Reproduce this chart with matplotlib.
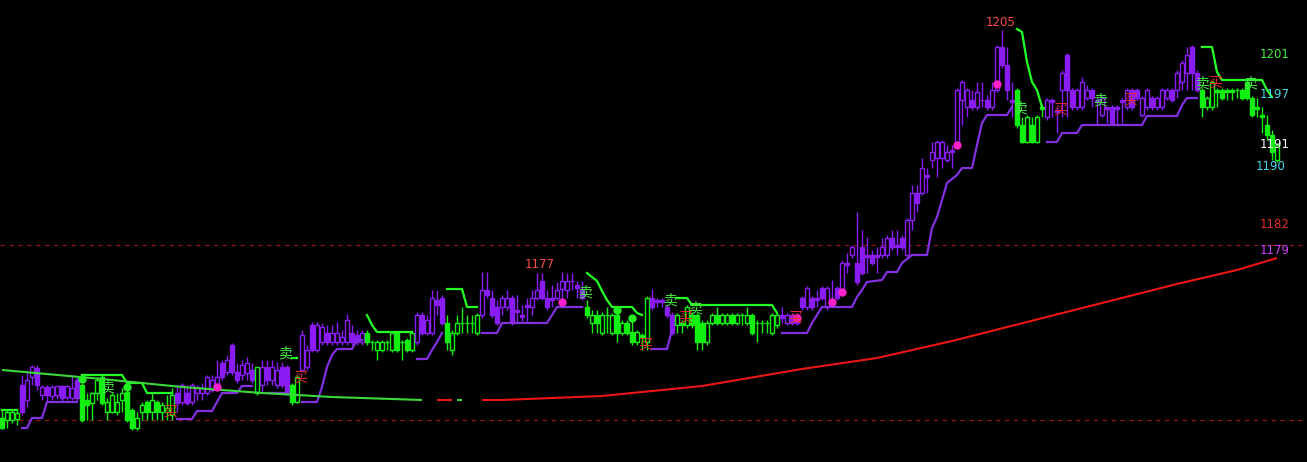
import matplotlib
matplotlib.use("Agg")
import matplotlib.pyplot as plt
from matplotlib.patches import Rectangle

plt.rcParams['font.family'] = ['Noto Sans CJK SC', 'DejaVu Sans']

# candle data (price), one entry per bar
opens = [1162.7, 1162.5, 1162.5, 1162.6, 1166.0, 1164.5, 1166.8, 1167.7, 1165.0, 1165.8,
         1164.9, 1165.0, 1165.9, 1164.8, 1164.7, 1166.5, 1166.0, 1164.5, 1164.2, 1165.2,
         1166.8, 1163.3, 1163.3, 1163.3, 1164.5, 1165.3, 1163.5, 1161.7, 1163.3, 1164.3,
         1163.3, 1164.3, 1163.3, 1163.3, 1163.0, 1165.2, 1164.3, 1165.2, 1164.3, 1165.2,
         1165.2, 1165.2, 1165.5, 1165.8, 1168.2, 1167.3, 1170.0, 1167.3, 1167.0, 1167.2,
         1167.5, 1165.2, 1166.0, 1167.8, 1166.5, 1166.0, 1167.8, 1167.8, 1166.0, 1164.3,
         1167.5, 1167.8, 1172.0, 1169.5, 1170.3, 1171.2, 1170.3, 1170.3, 1170.3, 1170.3,
         1171.2, 1171.0, 1170.3, 1171.2, 1170.3, 1169.5, 1169.5, 1170.3, 1169.5, 1171.2,
         1170.3, 1170.5, 1169.5, 1170.3, 1173.0, 1171.2, 1171.2, 1174.5, 1174.7, 1172.2,
         1169.5, 1171.2, 1172.2, 1172.2, 1172.2, 1171.2, 1173.0, 1175.5, 1174.7, 1173.8,
         1173.8, 1173.8, 1174.7, 1173.5, 1173.0, 1174.0, 1173.8, 1174.7, 1176.4, 1174.7,
         1174.7, 1174.7, 1175.6, 1175.5, 1176.4, 1176.0, 1175.5, 1173.8, 1172.2, 1173.0,
         1171.2, 1173.0, 1171.2, 1173.0, 1171.2, 1172.2, 1171.3, 1170.3, 1171.0, 1170.3,
         1174.7, 1174.5, 1174.5, 1173.8, 1173.0, 1172.0, 1172.2, 1172.0, 1173.0, 1173.0,
         1172.2, 1170.3, 1172.2, 1173.0, 1172.2, 1172.2, 1173.0, 1172.2, 1173.0, 1172.2,
         1173.0, 1172.2, 1172.2, 1172.2, 1171.2, 1172.0, 1173.0, 1172.2, 1173.0, 1172.2,
         1174.7, 1173.8, 1174.7, 1174.7, 1175.7, 1173.8, 1174.5, 1175.7, 1175.5, 1178.2,
         1179.0, 1178.2, 1179.8, 1179.0, 1179.0, 1179.0, 1179.0, 1179.0, 1180.7, 1180.0,
         1180.7, 1179.0, 1182.5, 1185.2, 1185.2, 1187.0, 1188.5, 1188.7, 1188.7, 1188.5,
         1189.5, 1190.0, 1194.5, 1193.8, 1194.5, 1193.8, 1194.5, 1194.5, 1193.8, 1195.5,
         1199.8, 1198.0, 1194.5, 1195.5, 1192.0, 1190.3, 1192.0, 1190.3, 1193.8, 1192.8,
         1194.5, 1193.5, 1195.5, 1199.0, 1195.5, 1193.8, 1193.8, 1194.7, 1195.5, 1194.5,
         1193.0, 1193.8, 1193.8, 1193.8, 1194.5, 1193.8, 1195.5, 1195.5, 1193.0, 1193.8,
         1194.7, 1193.8, 1193.8, 1194.7, 1195.5, 1195.5, 1196.3, 1197.2, 1199.8, 1197.2,
         1195.5, 1193.8, 1193.8, 1195.5, 1195.5, 1195.5, 1195.5, 1195.5, 1195.5, 1196.3,
         1194.7, 1193.8, 1193.0, 1192.0, 1191.0, 1188.5]
highs = [1163.5, 1163.5, 1163.5, 1163.5, 1167.0, 1167.5, 1168.0, 1168.0, 1166.0, 1166.0,
         1166.0, 1166.0, 1166.0, 1166.0, 1167.0, 1166.8, 1166.2, 1165.2, 1165.3, 1166.8,
         1167.0, 1164.7, 1165.2, 1165.2, 1165.7, 1165.5, 1163.7, 1163.3, 1164.3, 1164.5,
         1165.2, 1164.5, 1164.3, 1165.0, 1165.7, 1166.0, 1166.2, 1166.0, 1166.2, 1166.0,
         1166.2, 1167.0, 1167.0, 1168.5, 1168.5, 1169.0, 1170.2, 1168.2, 1168.5, 1168.8,
         1168.2, 1167.8, 1168.5, 1168.5, 1168.5, 1168.3, 1168.3, 1168.0, 1166.2, 1167.0,
         1171.5, 1170.0, 1172.3, 1172.3, 1172.2, 1172.0, 1172.0, 1172.3, 1171.5, 1173.1,
         1172.0, 1171.5, 1171.5, 1171.5, 1170.5, 1170.5, 1170.5, 1170.5, 1171.2, 1171.2,
         1170.5, 1170.7, 1171.2, 1173.3, 1173.3, 1173.0, 1175.5, 1175.5, 1175.0, 1173.0,
         1171.5, 1173.0, 1173.8, 1173.0, 1173.0, 1173.2, 1177.3, 1177.3, 1175.5, 1174.5,
         1175.0, 1175.5, 1175.0, 1175.0, 1174.0, 1174.7, 1175.5, 1177.2, 1177.2, 1175.5,
         1176.0, 1176.3, 1177.3, 1177.2, 1177.2, 1176.4, 1176.4, 1174.5, 1173.5, 1173.5,
         1173.3, 1173.8, 1173.2, 1173.3, 1172.5, 1172.5, 1173.0, 1171.5, 1171.2, 1174.9,
         1175.6, 1174.7, 1174.7, 1174.0, 1173.3, 1173.2, 1172.5, 1174.0, 1173.3, 1173.2,
         1172.5, 1172.5, 1173.2, 1173.8, 1173.2, 1173.2, 1173.2, 1173.2, 1173.2, 1173.8,
         1173.2, 1172.5, 1172.5, 1172.5, 1173.2, 1173.2, 1173.8, 1173.2, 1173.2, 1173.2,
         1174.9, 1175.9, 1174.9, 1175.5, 1175.9, 1175.9, 1176.5, 1175.9, 1178.5, 1179.2,
         1180.0, 1183.3, 1181.5, 1180.8, 1179.5, 1179.8, 1180.7, 1181.0, 1181.5, 1181.5,
         1181.0, 1182.7, 1186.0, 1186.0, 1188.7, 1187.7, 1190.3, 1190.5, 1190.5, 1190.0,
         1190.0, 1195.7, 1196.5, 1195.7, 1195.5, 1196.3, 1196.3, 1195.0, 1196.3, 1200.0,
         1201.5, 1199.8, 1196.3, 1195.7, 1192.8, 1193.0, 1192.8, 1193.0, 1194.0, 1194.7,
         1194.7, 1193.8, 1197.5, 1199.2, 1195.7, 1195.7, 1196.8, 1196.0, 1195.7, 1194.7,
         1194.9, 1193.8, 1194.0, 1194.0, 1194.7, 1195.7, 1195.7, 1195.7, 1194.9, 1195.7,
         1194.9, 1194.9, 1195.7, 1195.7, 1195.7, 1197.5, 1198.5, 1199.8, 1200.0, 1197.5,
         1195.7, 1194.9, 1196.5, 1195.7, 1195.7, 1195.7, 1195.7, 1195.7, 1195.7, 1196.5,
         1194.9, 1194.7, 1193.8, 1193.0, 1191.5, 1190.2]
lows = [1161.6, 1161.7, 1162.2, 1162.0, 1163.0, 1163.8, 1166.0, 1165.5, 1164.5, 1164.4,
        1164.5, 1164.6, 1164.4, 1164.5, 1164.5, 1164.4, 1162.3, 1162.5, 1162.5, 1164.5,
        1164.0, 1162.5, 1163.2, 1163.0, 1163.3, 1162.3, 1161.5, 1161.5, 1162.5, 1162.5,
        1162.5, 1162.5, 1162.5, 1162.5, 1162.5, 1163.3, 1164.0, 1164.0, 1164.0, 1164.5,
        1164.5, 1165.0, 1165.3, 1165.5, 1166.5, 1167.0, 1167.0, 1166.2, 1166.5, 1166.5,
        1166.2, 1165.0, 1165.2, 1166.0, 1166.0, 1165.7, 1165.7, 1165.0, 1164.0, 1164.2,
        1167.3, 1167.5, 1169.3, 1169.3, 1170.0, 1170.0, 1170.0, 1170.0, 1170.0, 1170.0,
        1170.0, 1170.0, 1170.0, 1170.0, 1169.5, 1168.5, 1169.3, 1169.5, 1169.3, 1169.3,
        1168.5, 1169.3, 1169.3, 1170.0, 1171.0, 1171.0, 1171.0, 1173.0, 1172.0, 1169.5,
        1169.0, 1171.0, 1171.2, 1171.2, 1171.2, 1171.0, 1172.7, 1174.7, 1172.7, 1172.0,
        1173.0, 1173.5, 1172.0, 1172.2, 1172.2, 1172.2, 1173.0, 1174.5, 1174.5, 1173.5,
        1173.8, 1174.5, 1174.5, 1174.7, 1175.5, 1174.7, 1174.5, 1172.7, 1171.2, 1171.2,
        1171.0, 1171.2, 1171.0, 1170.3, 1171.0, 1171.0, 1170.0, 1170.0, 1169.5, 1169.5,
        1173.5, 1173.8, 1173.8, 1172.7, 1171.0, 1171.2, 1171.2, 1171.7, 1171.7, 1169.5,
        1169.5, 1170.0, 1172.0, 1172.0, 1172.0, 1172.0, 1172.0, 1172.0, 1172.0, 1172.0,
        1171.0, 1170.3, 1171.2, 1171.2, 1171.0, 1171.7, 1172.2, 1172.0, 1172.0, 1172.0,
        1173.5, 1173.5, 1173.5, 1173.8, 1174.5, 1173.5, 1173.8, 1174.5, 1175.2, 1177.2,
        1178.7, 1176.0, 1177.0, 1177.2, 1178.0, 1177.2, 1178.7, 1178.7, 1179.5, 1179.0,
        1179.5, 1178.7, 1181.5, 1183.3, 1185.0, 1185.2, 1187.7, 1186.8, 1187.7, 1188.3,
        1187.7, 1189.7, 1192.0, 1192.8, 1193.5, 1193.5, 1193.8, 1193.5, 1193.5, 1195.3,
        1197.7, 1194.5, 1192.8, 1191.7, 1190.2, 1190.2, 1190.2, 1190.2, 1192.8, 1192.5,
        1192.8, 1191.2, 1192.8, 1192.8, 1193.5, 1193.5, 1193.5, 1194.5, 1193.8, 1192.0,
        1192.8, 1192.2, 1192.0, 1192.0, 1192.2, 1193.5, 1193.5, 1194.5, 1192.8, 1193.5,
        1193.5, 1193.5, 1193.5, 1194.5, 1194.3, 1194.7, 1195.5, 1195.5, 1195.5, 1195.3,
        1192.8, 1193.5, 1193.5, 1193.8, 1194.5, 1194.5, 1194.5, 1194.7, 1194.5, 1194.5,
        1192.8, 1192.8, 1191.2, 1190.5, 1188.5, 1188.3]
closes = [1161.7, 1163.3, 1163.3, 1163.2, 1163.3, 1166.5, 1167.8, 1166.0, 1165.8, 1165.0,
          1165.8, 1165.9, 1164.7, 1165.9, 1165.7, 1164.7, 1162.5, 1164.0, 1165.2, 1166.5,
          1164.2, 1164.3, 1165.0, 1164.3, 1165.2, 1162.5, 1161.7, 1162.7, 1164.0, 1163.3,
          1164.5, 1163.3, 1164.0, 1163.7, 1165.0, 1164.2, 1166.0, 1164.2, 1166.0, 1165.8,
          1165.7, 1166.8, 1166.5, 1166.8, 1166.8, 1168.5, 1167.3, 1166.5, 1168.0, 1168.2,
          1166.5, 1167.8, 1167.8, 1166.5, 1167.8, 1167.5, 1166.0, 1165.2, 1164.3, 1166.8,
          1171.0, 1169.5, 1169.5, 1172.0, 1171.8, 1170.3, 1171.2, 1171.2, 1170.8, 1172.5,
          1170.3, 1170.3, 1171.2, 1170.3, 1170.2, 1170.3, 1170.3, 1170.4, 1171.2, 1169.5,
          1170.4, 1169.5, 1171.2, 1173.0, 1171.2, 1172.5, 1174.7, 1174.0, 1172.2, 1170.3,
          1171.2, 1172.2, 1172.3, 1172.3, 1172.3, 1173.0, 1175.5, 1175.0, 1173.0, 1172.2,
          1174.7, 1174.7, 1172.2, 1173.3, 1172.8, 1173.8, 1174.7, 1175.5, 1174.7, 1173.8,
          1174.5, 1175.5, 1176.4, 1176.4, 1176.5, 1175.7, 1174.7, 1173.0, 1173.0, 1172.2,
          1173.0, 1173.1, 1173.0, 1171.2, 1172.2, 1171.2, 1170.3, 1171.3, 1170.8, 1174.7,
          1173.8, 1174.3, 1174.3, 1173.0, 1171.2, 1173.0, 1172.0, 1173.8, 1172.0, 1170.3,
          1170.3, 1172.2, 1173.0, 1172.2, 1173.0, 1173.0, 1172.2, 1173.0, 1173.1, 1173.0,
          1171.2, 1172.3, 1172.3, 1172.3, 1173.0, 1173.0, 1172.7, 1173.0, 1172.2, 1173.0,
          1173.8, 1175.7, 1173.8, 1174.5, 1174.7, 1175.7, 1174.3, 1174.7, 1178.2, 1178.0,
          1179.8, 1176.3, 1177.2, 1178.8, 1178.2, 1178.8, 1179.8, 1180.7, 1179.8, 1179.8,
          1179.8, 1182.5, 1185.2, 1184.2, 1187.7, 1186.8, 1189.3, 1190.3, 1190.3, 1189.3,
          1189.3, 1195.5, 1196.3, 1195.5, 1193.8, 1195.3, 1194.6, 1193.8, 1195.5, 1199.8,
          1198.0, 1195.5, 1194.3, 1192.0, 1190.3, 1192.8, 1190.3, 1192.8, 1193.6, 1194.5,
          1194.3, 1193.3, 1197.2, 1195.5, 1193.8, 1195.5, 1196.3, 1195.5, 1194.7, 1194.3,
          1194.7, 1193.6, 1192.2, 1193.6, 1194.3, 1195.5, 1193.8, 1194.7, 1194.7, 1195.5,
          1193.8, 1194.7, 1195.5, 1195.5, 1194.5, 1197.2, 1198.2, 1199.0, 1197.2, 1195.5,
          1193.8, 1194.7, 1196.3, 1195.3, 1194.7, 1195.3, 1195.3, 1195.6, 1194.7, 1194.7,
          1193.0, 1193.6, 1192.8, 1191.0, 1189.3, 1190.0]

# trend state per run of bars: p = up (purple), g = down (green)
trend_runs = [(0, 3, 'g'), (4, 15, 'p'), (16, 34, 'g'), (35, 50, 'p'), (51, 51, 'g'),
              (52, 57, 'p'), (58, 59, 'g'), (60, 72, 'p'), (73, 82, 'g'), (83, 88, 'p'),
              (89, 95, 'g'), (96, 116, 'p'), (117, 129, 'g'), (130, 134, 'p'),
              (135, 155, 'g'), (156, 202, 'p'), (203, 208, 'g'), (209, 239, 'p'),
              (240, 255, 'g')]

# stop lines (bar index, price)
support = [
    [(4, 1161.7), (5, 1161.7), (6, 1162.7), (8, 1162.7), (9, 1164.3), (15, 1164.3)],
    [(35, 1162.6), (38, 1162.6), (39, 1163.4), (42, 1163.4), (44, 1165.2), (47, 1165.2),
     (48, 1165.9), (50, 1165.9)],
    [(53, 1165.2), (57, 1165.2)],
    [(60, 1164.3), (63, 1164.3), (64, 1165.8), (65, 1167.8), (66, 1169.0), (67, 1169.6),
     (70, 1169.6), (71, 1170.5), (72, 1170.5)],
    [(83, 1168.6), (85, 1168.6), (86, 1169.5), (87, 1170.3), (88, 1171.2)],
    [(96, 1171.2), (99, 1171.2), (100, 1172.2), (109, 1172.2), (110, 1173.0), (111, 1173.8),
     (116, 1173.8)],
    [(130, 1169.6), (133, 1169.6), (134, 1171.5)],
    [(156, 1171.2), (161, 1171.2), (162, 1172.2), (163, 1173.0), (164, 1173.8), (170, 1173.8),
     (171, 1174.8), (172, 1175.5), (173, 1176.3), (176, 1176.5), (177, 1177.3), (179, 1177.3),
     (180, 1178.2), (181, 1178.6), (182, 1179.0), (185, 1179.0), (186, 1181.7), (187, 1182.8),
     (188, 1184.5), (189, 1186.2), (190, 1186.6), (191, 1187.0), (192, 1187.7), (194, 1187.7),
     (195, 1190.0), (196, 1192.2), (197, 1193.0), (201, 1193.0), (202, 1193.8)],
    [(209, 1190.3), (211, 1190.3), (212, 1191.2), (215, 1191.2), (216, 1192.0), (228, 1192.0),
     (229, 1192.9), (235, 1192.9), (236, 1194.0), (237, 1194.7), (239, 1194.7)],
]
resistance = [
    [(0, 1163.5), (3, 1163.5)],
    [(16, 1167.0), (24, 1167.0), (25, 1166.2), (28, 1166.2), (29, 1165.2), (34, 1165.2)],
    [(58, 1168.7), (59, 1168.7)],
    [(73, 1173.0), (74, 1172.0), (75, 1171.3), (82, 1171.3)],
    [(89, 1175.6), (92, 1175.6), (93, 1173.8), (95, 1173.8)],
    [(117, 1177.2), (118, 1176.8), (119, 1176.4), (120, 1175.4), (121, 1174.5), (122, 1173.8),
     (126, 1173.8), (127, 1173.2), (128, 1173.0)],
    [(135, 1174.7), (137, 1174.7), (138, 1174.0), (154, 1174.0), (155, 1173.2)],
    [(203, 1201.6), (204, 1201.3), (205, 1198.3), (206, 1196.3), (207, 1195.5), (208, 1193.8)],
    [(240, 1199.8), (242, 1199.8), (243, 1197.3), (244, 1196.5), (252, 1196.5), (253, 1195.5),
     (254, 1194.8)],
]

# long moving average, colour by direction (n = not drawn)
ma_idx = [0, 20, 36, 52, 66, 84, 87, 90, 91, 92, 96, 100, 120, 140, 160, 175, 190, 205,
          220, 235, 247, 255]
ma_val = [1167.5, 1166.6, 1165.8, 1165.2, 1164.8, 1164.5, 1164.5, 1164.5, 1164.5, 1164.5,
          1164.5, 1164.5, 1164.9, 1165.9, 1167.6, 1168.7, 1170.4, 1172.3, 1174.2, 1176.1,
          1177.5, 1178.7]
ma_seg = ['g', 'g', 'g', 'g', 'g', 'n', 'r', 'n', 'g', 'n', 'r', 'r', 'r', 'r', 'r', 'r',
          'r', 'r', 'r', 'r', 'r']

# signals
sell_idx = [21, 56.6, 116.6, 133.6, 138.6, 203.6, 219.6, 240, 249.6]
sell_val = [1165.8, 1169.2, 1175.3, 1174.5, 1173.7, 1193.7, 1194.5, 1196.2, 1196.2]
buy_idx = [33.6, 59.6, 128.6, 136.6, 158.6, 211.6, 225.6, 242.6]
buy_val = [1163.3, 1166.7, 1170.0, 1172.7, 1172.7, 1193.5, 1194.5, 1196.2]
gdot_idx = [16, 25, 123, 126]
gdot_val = [1166.6, 1165.8, 1173.5, 1172.7]
mdot_idx = [43, 112, 159, 166, 168, 191, 199]
mdot_val = [1165.8, 1174.3, 1172.7, 1174.3, 1175.3, 1190.0, 1196.1]

levels = [1180.0, 1162.5]

# price tags
tags = [(199.8, 1202.3, '1205', '#ff4a4a'), (107.6, 1178.0, '1177', '#ff4a4a'),
        (254.6, 1199.0, '1201', '#44ee44'), (254.6, 1195.0, '1197', '#44d8e8'),
        (254.6, 1190.1, '1191', '#ffffff'), (253.8, 1187.8, '1190', '#44d8e8'),
        (254.6, 1182.0, '1182', '#e03030'), (254.6, 1179.5, '1179', '#d040ff')]

PURPLE = '#8a1cf5'
PURPLE_LINE = '#8330e0'
GREEN = '#12f012'
GREEN_LINE = '#22ff22'

colors = [None] * len(opens)
for a, b, c in trend_runs:
    for k in range(a, b + 1):
        colors[k] = PURPLE if c == 'p' else GREEN

fig = plt.figure(figsize=(13.07, 4.62), dpi=100, facecolor='black')
ax = fig.add_axes([0, 0, 1, 1])
ax.set_facecolor('black')
ax.set_xlim(-0.4, 261.0)
ax.set_ylim(1158.3, 1204.5)
ax.axis('off')

for lv in levels:
    ax.axhline(lv, color='#9a1515', lw=0.8, ls=(0, (4, 4)), zorder=1)

w = 0.7
for k in range(len(opens)):
    o, h, l, c = opens[k], highs[k], lows[k], closes[k]
    col = colors[k]
    ax.vlines(k, l, h, color=col, lw=1.0, zorder=2)
    if abs(c - o) < 0.15:
        ax.hlines(o, k - w / 2, k + w / 2, color=col, lw=1.0, zorder=3)
    elif c > o:
        ax.add_patch(Rectangle((k - w / 2, o), w, c - o, facecolor='black',
                               edgecolor=col, lw=1.0, zorder=3))
    else:
        ax.add_patch(Rectangle((k - w / 2, c), w, o - c, facecolor=col,
                               edgecolor=col, lw=1.0, zorder=3))

for seg in support:
    ax.plot([p[0] for p in seg], [p[1] for p in seg], color=PURPLE_LINE, lw=1.6,
            solid_joinstyle='round', zorder=4)
for seg in resistance:
    ax.plot([p[0] for p in seg], [p[1] for p in seg], color=GREEN_LINE, lw=1.6,
            solid_joinstyle='round', zorder=4)

for j in range(len(ma_seg)):
    if ma_seg[j] == 'n':
        continue
    col = '#ee1515' if ma_seg[j] == 'r' else '#3ad83a'
    ax.plot(ma_idx[j:j + 2], ma_val[j:j + 2], color=col, lw=1.5, zorder=4,
            solid_capstyle='butt')

ax.plot(gdot_idx, gdot_val, 'o', color='#22ee22', ms=5, zorder=5)
ax.plot(mdot_idx, mdot_val, 'o', color='#ff22cc', ms=5, zorder=5)

for x, y in zip(sell_idx, sell_val):
    ax.text(x, y, '卖', color='#44ee44', fontsize=10, ha='center', va='center', zorder=6)
for x, y in zip(buy_idx, buy_val):
    ax.text(x, y, '买', color='#e02a2a', fontsize=10, ha='center', va='center', zorder=6)

for x, y, t, c in tags:
    ax.text(x, y, t, color=c, fontsize=8.5, ha='center', va='center',
            family=['DejaVu Sans'], zorder=6)

fig.savefig('out.png', dpi=100, facecolor='black')
